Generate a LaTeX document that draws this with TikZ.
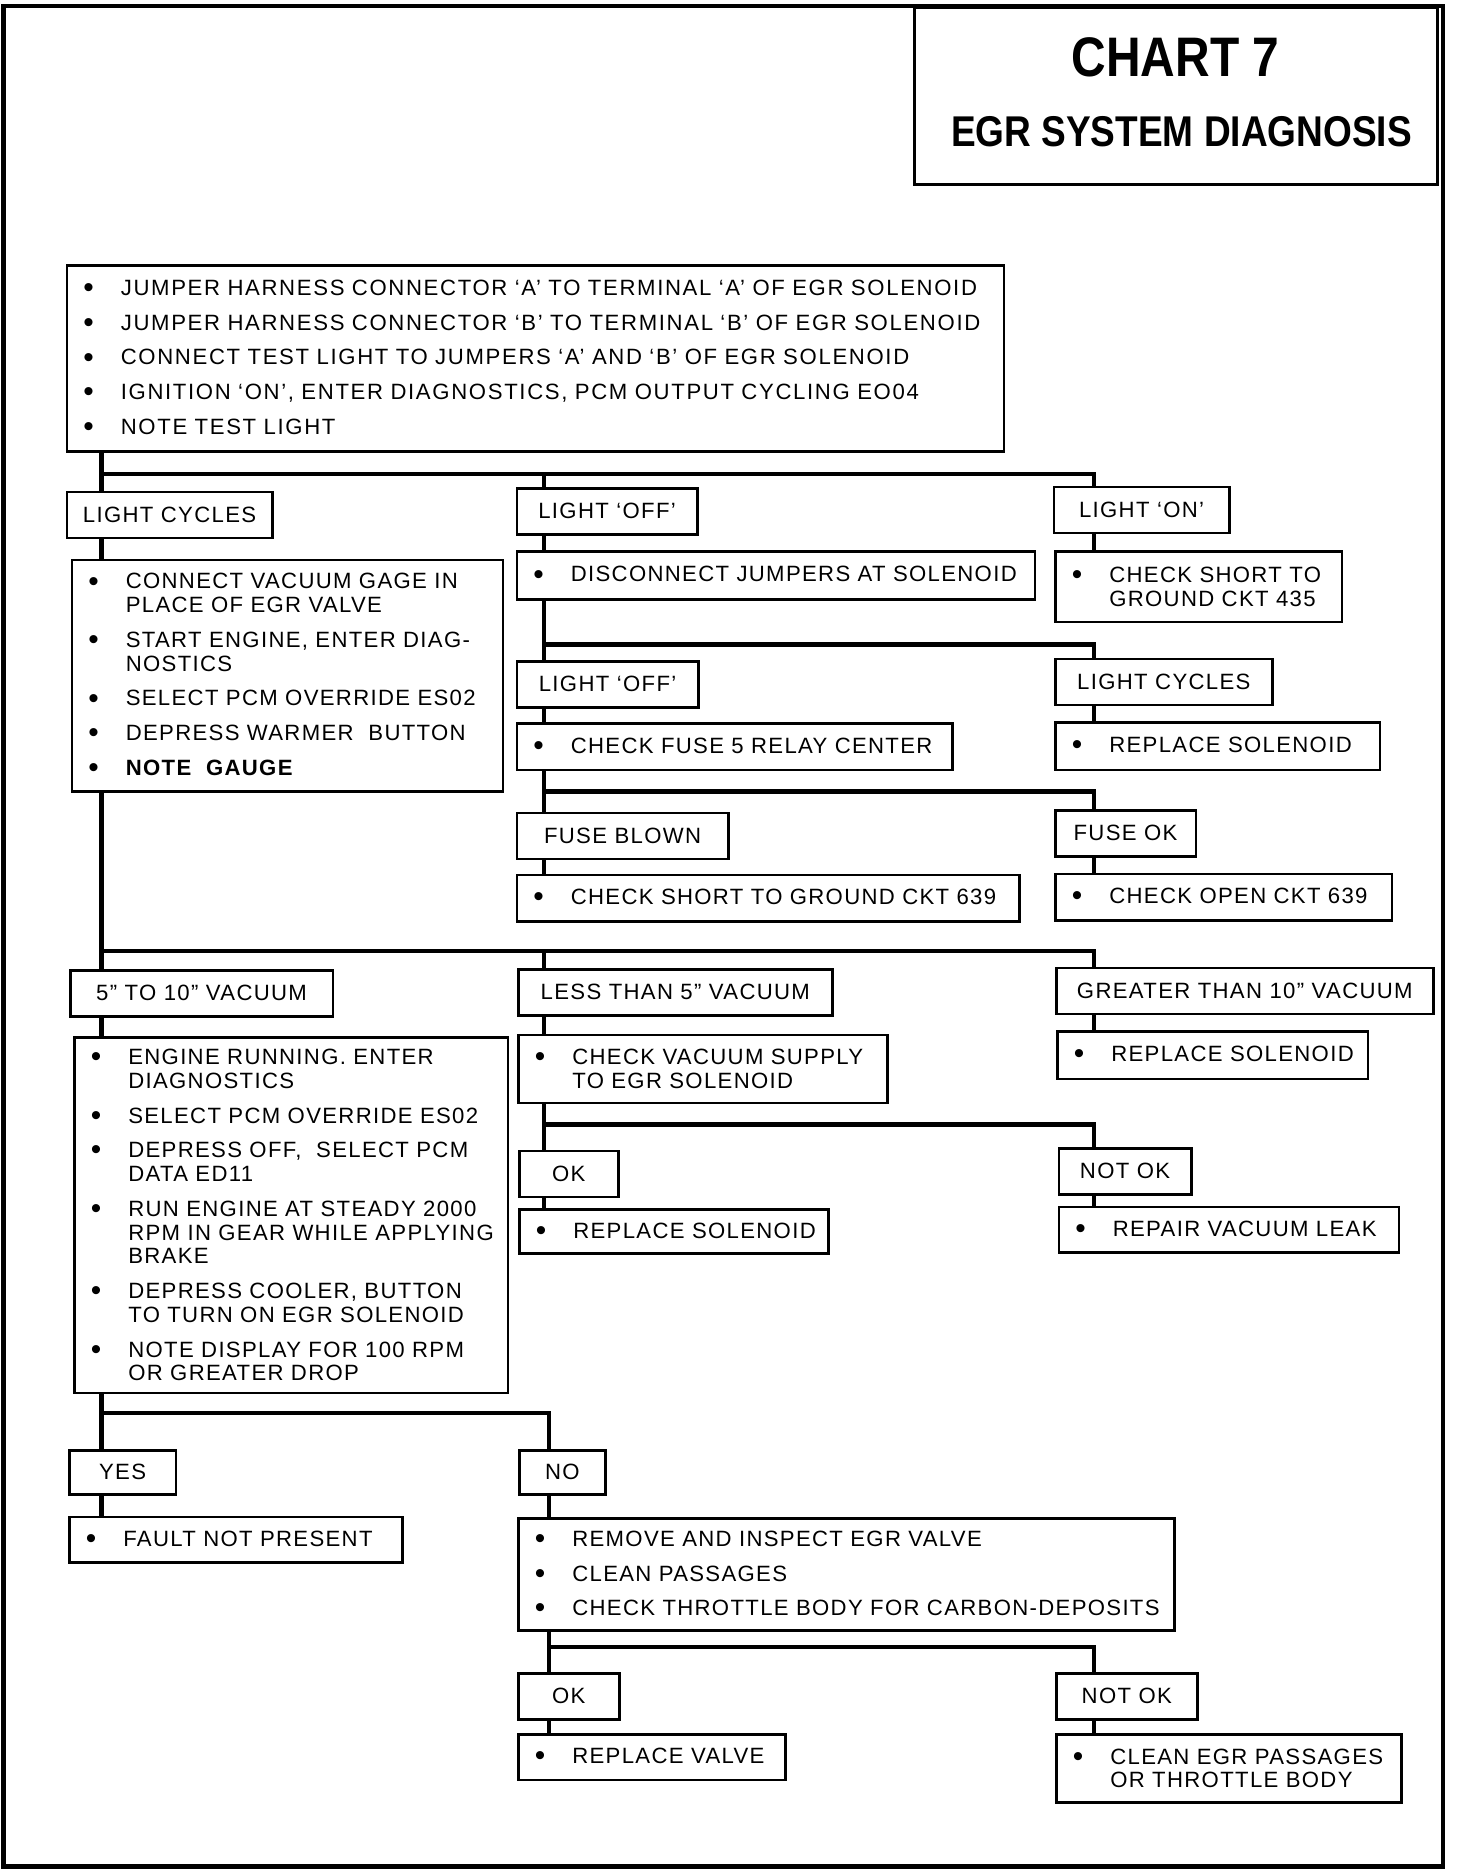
\documentclass[tikz,border=0pt]{standalone}
\usepackage{fontspec}
\setmainfont{Liberation Sans}[LetterSpace=6]
\newfontfamily\titlefont{Liberation Sans}[FakeStretch=0.86]
\usepackage{tikz}
\usetikzlibrary{calc}

% bullet line and continuation line
\newcommand{\bdot}{\raisebox{-1.2pt}{\fontsize{17}{13.5}\selectfont\textbullet}}
\newcommand{\bl}[1]{\makebox[0.75cm][l]{\bdot}\mbox{#1}}
\newcommand{\cl}[1]{\hspace*{0.75cm}\mbox{#1}}

\begin{document}
\begin{tikzpicture}[
  x=1cm, y=-1cm,
  every node/.style={font=\fontsize{12.6}{13.5}\selectfont},
  lbl/.style ={draw, line width=1.5pt, anchor=north west, inner sep=0pt,
               minimum height=0.92cm},
  act/.style ={draw, line width=1.5pt, anchor=north west, inner xsep=0.33cm,
               inner ysep=0pt, align=left},
  conn/.style={line width=2.4pt, line join=miter}
]
\useasboundingbox (0,0) rectangle (29.12,37.44);

%% ---- Frame and title ---------------------------------------------
\draw[line width=2.8pt] (0.07,0.12) rectangle (28.86,37.33);
\node[draw, line width=1.5pt, anchor=north west, minimum width=10.46cm,
      minimum height=3.54cm] (ttlbox) at (18.26,0.12) {};
\node[font=\titlefont\bfseries\fontsize{31.7}{34}\selectfont] (ttl)
     at (23.51,1.15) {CHART 7};
\node[font=\titlefont\bfseries\fontsize{24.5}{27}\selectfont] (sub)
     at (23.63,2.63) {EGR SYSTEM DIAGNOSIS};

%% ---- Columns and buses -------------------------------------------
\coordinate (cL) at (2.03,0);
\coordinate (cM) at (10.88,0);
\coordinate (cN) at (10.98,0);
\coordinate (cR) at (21.88,0);
\coordinate (b1) at (2.03,9.48);
\coordinate (b2) at (10.88,12.89);
\coordinate (b3) at (10.88,15.83);
\coordinate (b4) at (2.03,19.02);
\coordinate (b5) at (10.88,22.49);
\coordinate (b6) at (2.03,28.26);
\coordinate (b7) at (10.98,32.94);

%% ---- Test light --------------------------------------------------
\node[act, text width=18.08cm, minimum height=3.72cm,
      font=\fontsize{12.6}{13.5}\selectfont\addfontfeature{LetterSpace=7.5}]
     (jump) at (1.31,5.28)
     {\bl{JUMPER HARNESS CONNECTOR ‘A’ TO TERMINAL ‘A’ OF EGR SOLENOID}\\[6.3pt]
      \bl{JUMPER HARNESS CONNECTOR ‘B’ TO TERMINAL ‘B’ OF EGR SOLENOID}\\[6.3pt]
      \bl{CONNECT TEST LIGHT TO JUMPERS ‘A’ AND ‘B’ OF EGR SOLENOID}\\[6.3pt]
      \bl{IGNITION ‘ON’, ENTER DIAGNOSTICS, PCM OUTPUT CYCLING EO04}\\[6.3pt]
      \bl{NOTE TEST LIGHT}};

\node[lbl, minimum width=4.11cm] (lcyc)  at (1.31,9.81)  {LIGHT CYCLES};
\node[lbl, minimum width=3.61cm] (loff)  at (10.31,9.74) {LIGHT ‘OFF’};
\node[lbl, minimum width=3.51cm] (lon)   at (21.05,9.71) {LIGHT ‘ON’};

\node[act, text width=7.96cm, minimum height=4.63cm] (gage) at (1.41,11.17)
     {\bl{CONNECT VACUUM GAGE IN}\\
      \cl{PLACE OF EGR VALVE}\\[6.3pt]
      \bl{START ENGINE, ENTER DIAG-}\\
      \cl{NOSTICS}\\[6.3pt]
      \bl{SELECT PCM OVERRIDE ES02}\\[6.3pt]
      \bl{DEPRESS WARMER\ \ BUTTON}\\[6.3pt]
      \bl{\textbf{NOTE\ \ GAUGE}}};
\node[act, text width=9.70cm, minimum height=0.96cm] (disc) at (10.31,11.00)
     {\bl{DISCONNECT JUMPERS AT SOLENOID}};
\node[act, text width=5.07cm, minimum height=1.41cm] (gnd435) at (21.08,11.00)
     {\bl{CHECK SHORT TO}\\
      \cl{GROUND CKT 435}};

%% ---- Jumpers disconnected ----------------------------------------
\node[lbl, minimum width=3.63cm] (loff2) at (10.31,13.20) {LIGHT ‘OFF’};
\node[lbl, minimum width=4.34cm] (lcyc2) at (21.08,13.15) {LIGHT CYCLES};
\node[act, text width=8.05cm, minimum height=0.93cm] (fuse) at (10.31,14.44)
     {\bl{CHECK FUSE 5 RELAY CENTER}};
\node[act, text width=5.83cm, minimum height=0.95cm] (repsol1) at (21.08,14.42)
     {\bl{REPLACE SOLENOID}};

\node[lbl, minimum width=4.23cm] (blown) at (10.31,16.23) {FUSE BLOWN};
\node[lbl, minimum width=2.81cm] (fuseok) at (21.08,16.18) {FUSE OK};
\node[act, text width=9.39cm, minimum height=0.93cm] (gnd639) at (10.31,17.47)
     {\bl{CHECK SHORT TO GROUND CKT 639}};
\node[act, text width=6.07cm, minimum height=0.93cm] (open639) at (21.08,17.45)
     {\bl{CHECK OPEN CKT 639}};

%% ---- Vacuum gauge ------------------------------------------------
\node[lbl, minimum width=5.25cm] (vmid)  at (1.38,19.38)  {5" TO 10" VACUUM};
\node[lbl, minimum width=6.28cm] (vlow)  at (10.34,19.36) {LESS THAN 5" VACUUM};
\node[lbl, minimum width=7.54cm] (vhigh) at (21.10,19.33) {GREATER THAN 10" VACUUM};

\node[act, text width=8.01cm, minimum height=7.11cm] (run) at (1.46,20.72)
     {\bl{ENGINE RUNNING. ENTER}\\
      \cl{DIAGNOSTICS}\\[6.3pt]
      \bl{SELECT PCM OVERRIDE ES02}\\[6.3pt]
      \bl{DEPRESS OFF,\ \ SELECT PCM}\\
      \cl{DATA ED11}\\[6.3pt]
      \bl{RUN ENGINE AT STEADY 2000}\\
      \cl{RPM IN GEAR WHILE APPLYING}\\
      \cl{BRAKE}\\[6.3pt]
      \bl{DEPRESS COOLER, BUTTON}\\
      \cl{TO TURN ON EGR SOLENOID}\\[6.3pt]
      \bl{NOTE DISPLAY FOR 100 RPM}\\
      \cl{OR GREATER DROP}};
\node[act, text width=6.72cm, minimum height=1.36cm] (vsup) at (10.34,20.67)
     {\bl{CHECK VACUUM SUPPLY}\\
      \cl{TO EGR SOLENOID}};
\node[act, text width=5.55cm, minimum height=0.95cm] (repsol2) at (21.12,20.60)
     {\bl{REPLACE SOLENOID}};

\node[lbl, minimum width=1.98cm] (ok1)  at (10.36,22.99) {OK};
\node[lbl, minimum width=2.65cm] (nok1) at (21.15,22.94) {NOT OK};
\node[act, text width=5.52cm, minimum height=0.88cm] (repsol3) at (10.36,24.16)
     {\bl{REPLACE SOLENOID}};
\node[act, text width=6.14cm, minimum height=0.91cm] (leak) at (21.15,24.11)
     {\bl{REPAIR VACUUM LEAK}};

%% ---- RPM drop ----------------------------------------------------
\node[lbl, minimum width=2.13cm, minimum height=0.88cm] (yes) at (1.36,28.98) {YES};
\node[lbl, minimum width=1.72cm, minimum height=0.88cm] (no)  at (10.36,28.98) {NO};
\node[act, text width=6.00cm, minimum height=0.91cm] (nofault) at (1.36,30.31)
     {\bl{FAULT NOT PRESENT}};
\node[act, text width=12.46cm, minimum height=2.24cm] (valve) at (10.34,30.34)
     {\bl{REMOVE AND INSPECT EGR VALVE}\\[6.3pt]
      \bl{CLEAN PASSAGES}\\[6.3pt]
      \bl{CHECK THROTTLE BODY FOR CARBON-DEPOSITS}};

\node[lbl, minimum width=2.02cm] (ok2)  at (10.34,33.44) {OK};
\node[lbl, minimum width=2.82cm] (nok2) at (21.10,33.44) {NOT OK};
\node[act, text width=4.68cm, minimum height=0.91cm] (repvalve) at (10.34,34.66)
     {\bl{REPLACE VALVE}};
\node[act, text width=6.24cm, minimum height=1.36cm] (clean) at (21.10,34.66)
     {\bl{CLEAN EGR PASSAGES}\\
      \cl{OR THROTTLE BODY}};

%% ---- Connectors --------------------------------------------------
\draw[conn] (jump.south -| cL) -- (lcyc.north -| cL);
\draw[conn] (b1) -| (lon.north -| cR);
\draw[conn] (b1 -| cM) -- (loff.north -| cM);
\draw[conn] (lcyc.south -| cL) -- (gage.north -| cL);
\draw[conn] (loff.south -| cM) -- (disc.north -| cM);
\draw[conn] (lon.south -| cR) -- (gnd435.north -| cR);

\draw[conn] (disc.south -| cM) -- (loff2.north -| cM);
\draw[conn] (b2) -| (lcyc2.north -| cR);
\draw[conn] (loff2.south -| cM) -- (fuse.north -| cM);
\draw[conn] (lcyc2.south -| cR) -- (repsol1.north -| cR);
\draw[conn] (fuse.south -| cM) -- (blown.north -| cM);
\draw[conn] (b3) -| (fuseok.north -| cR);
\draw[conn] (blown.south -| cM) -- (gnd639.north -| cM);
\draw[conn] (fuseok.south -| cR) -- (open639.north -| cR);

\draw[conn] (gage.south -| cL) -- (vmid.north -| cL);
\draw[conn] (b4) -| (vhigh.north -| cR);
\draw[conn] (b4 -| cM) -- (vlow.north -| cM);
\draw[conn] (vmid.south -| cL) -- (run.north -| cL);
\draw[conn] (vlow.south -| cM) -- (vsup.north -| cM);
\draw[conn] (vhigh.south -| cR) -- (repsol2.north -| cR);
\draw[conn] (vsup.south -| cM) -- (ok1.north -| cM);
\draw[conn] (b5) -| (nok1.north -| cR);
\draw[conn] (ok1.south -| cM) -- (repsol3.north -| cM);
\draw[conn] (nok1.south -| cR) -- (leak.north -| cR);

\draw[conn] (run.south -| cL) -- (yes.north -| cL);
\draw[conn] (b6) -| (no.north -| cN);
\draw[conn] (yes.south -| cL) -- (nofault.north -| cL);
\draw[conn] (no.south -| cN) -- (valve.north -| cN);
\draw[conn] (valve.south -| cN) -- (ok2.north -| cN);
\draw[conn] (b7) -| (nok2.north -| cR);
\draw[conn] (ok2.south -| cN) -- (repvalve.north -| cN);
\draw[conn] (nok2.south -| cR) -- (clean.north -| cR);

\end{tikzpicture}
\end{document}
